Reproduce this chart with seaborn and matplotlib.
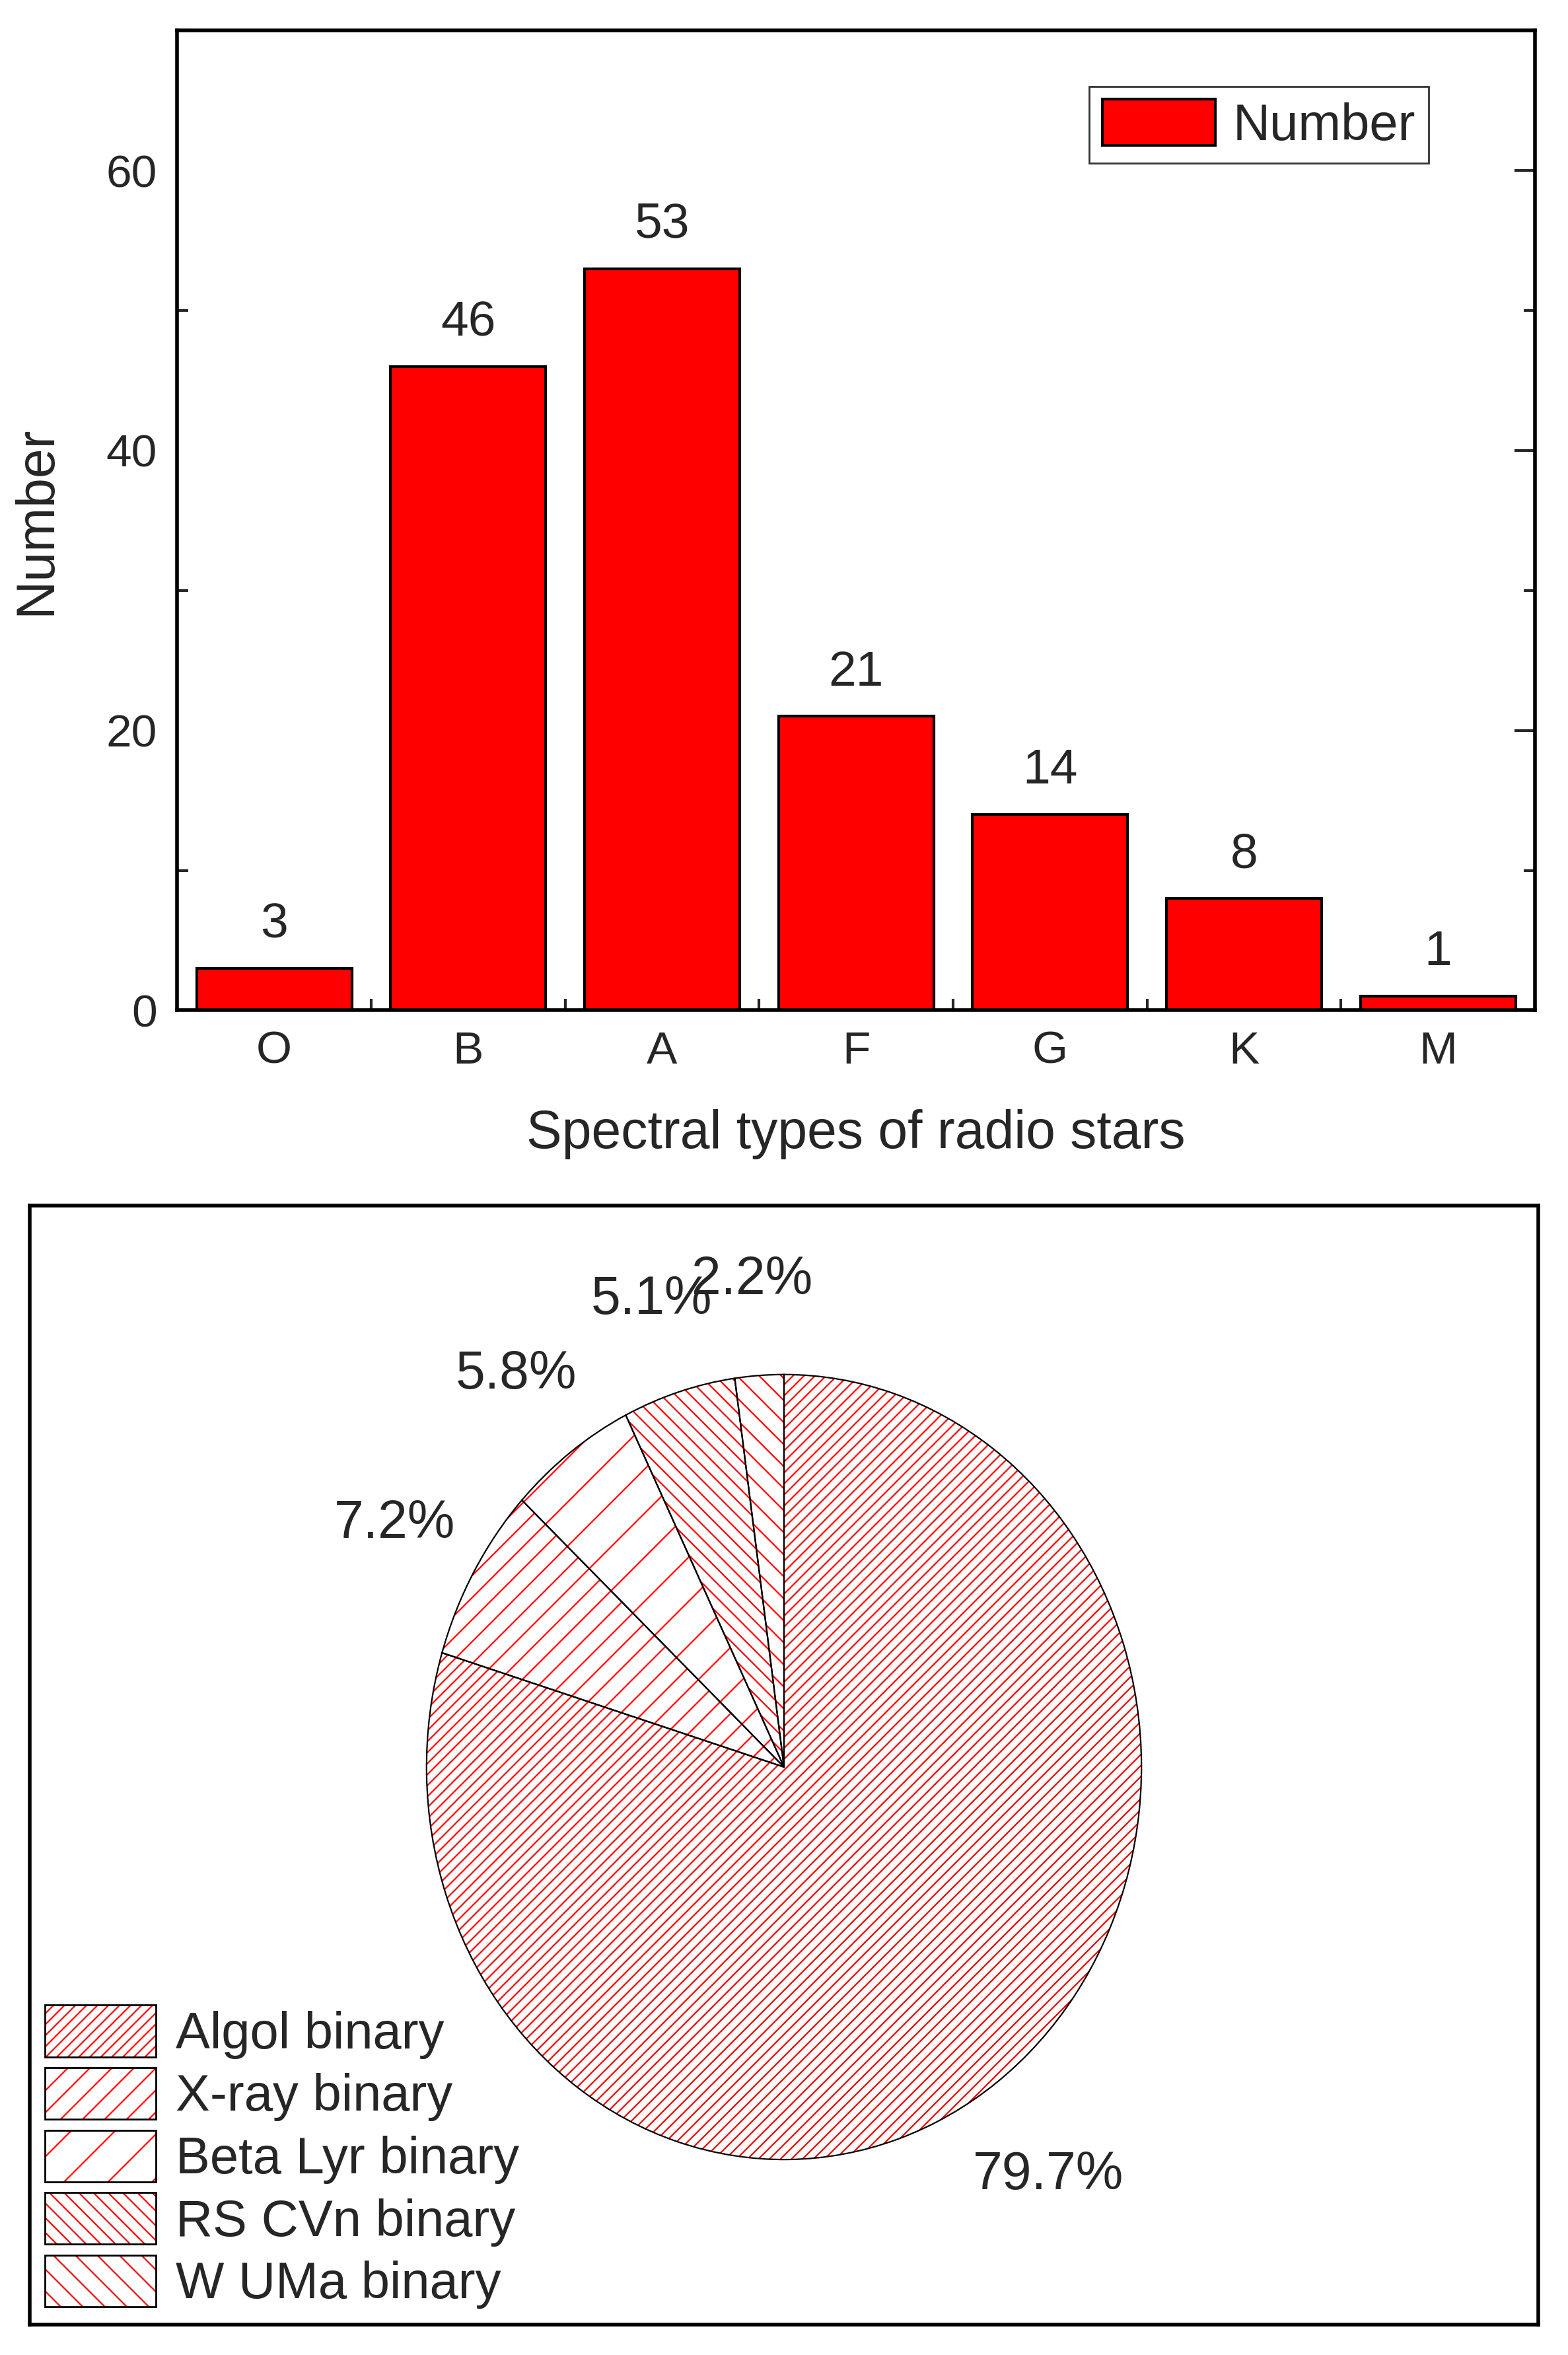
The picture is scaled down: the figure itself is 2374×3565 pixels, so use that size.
import numpy as np
import pandas as pd
import matplotlib
matplotlib.use("Agg")
import matplotlib.pyplot as plt
import seaborn as sns
from matplotlib.patches import Patch
from matplotlib.legend_handler import HandlerTuple

sns.set_theme(style="white")
plt.rcParams['font.family'] = ['Liberation Sans', 'DejaVu Sans']
plt.rcParams['hatch.linewidth'] = 0.8

# data
spectral_types = ['O', 'B', 'A', 'F', 'G', 'K', 'M']
counts = [3, 46, 53, 21, 14, 8, 1]

binary_types = ['Algol binary', 'X-ray binary', 'Beta Lyr binary', 'RS CVn binary', 'W UMa binary']
binary_pct = [79.7, 7.2, 5.8, 5.1, 2.2]
binary_hatch = ['////', '//', '/', '\\\\\\', '\\\\']
# label anchor points (data coords of pie axes)
label_pos = [(0.74, -1.04), (-1.09, 0.62), (-0.75, 1.0), (-0.37, 1.19), (-0.09, 1.24)]

fig = plt.figure(figsize=(11.87, 17.825), dpi=200)

# bar chart
ax = fig.add_axes([0.113, 0.571, 0.866, 0.416])
df = pd.DataFrame({'type': spectral_types, 'n': counts})
sns.barplot(data=df, x='type', y='n', ax=ax, color='red', saturation=1,
            edgecolor='black', linewidth=1.5, width=0.8, label='Number')
for i, v in enumerate(counts):
    ax.text(i, v + 1.5, str(v), ha='center', va='bottom', fontsize=27)
ax.set_xlim(-0.5, 6.5)
ax.set_ylim(0, 70)
ax.set_yticks([0, 20, 40, 60])
ax.set_yticks([10, 30, 50, 70], minor=True)
ax.set_xticks(np.arange(-0.5, 7, 1), minor=True)
ax.tick_params(which='both', direction='in', top=False, right=True, width=1.5, labelsize=25, pad=11)
ax.tick_params(which='major', length=11)
ax.tick_params(which='minor', length=6)
ax.tick_params(axis='x', which='minor', bottom=True)
ax.tick_params(axis='y', which='minor', left=True, right=True)
for s in ax.spines.values():
    s.set_linewidth(2)
    s.set_color('black')
ax.set_xlabel('Spectral types of radio stars', fontsize=29, labelpad=20)
ax.set_ylabel('Number', fontsize=29, labelpad=24)
leg = ax.legend(loc='upper right', bbox_to_anchor=(0.9216, 0.943), borderaxespad=0,
                fontsize=28, frameon=True, fancybox=False, edgecolor='black',
                handlelength=2.2, handleheight=1.0, handletextpad=0.35, borderpad=0.25)
leg.get_frame().set_linewidth(1)

# pie chart: hatched red wedges, then black outlines on top
ax2 = fig.add_axes([0.019, 0.013, 0.962, 0.475])
wedges, _ = ax2.pie(binary_pct, startangle=90, counterclock=False,
                    colors=['white'] * 5,
                    wedgeprops=dict(edgecolor='red', linewidth=0))
for w, h in zip(wedges, binary_hatch):
    w.set_hatch(h)
ax2.pie(binary_pct, startangle=90, counterclock=False,
        wedgeprops=dict(fill=False, edgecolor='black', linewidth=0.8))
for (x, y), p in zip(label_pos, binary_pct):
    ax2.text(x, y, f'{p}%', ha='center', va='center', fontsize=29)
ax2.set_aspect('auto')
ax2.set_xlim(-2.11, 2.11)
ax2.set_ylim(-1.42, 1.43)
ax2.set_frame_on(True)
for s in ax2.spines.values():
    s.set_visible(True)
    s.set_linewidth(2)
    s.set_color('black')
handles = [(Patch(facecolor='white', edgecolor='red', hatch=h, linewidth=0),
            Patch(fill=False, edgecolor='black', linewidth=1)) for h in binary_hatch]
ax2.legend(handles, binary_types, loc='lower left', fontsize=28, frameon=False,
           handler_map={tuple: HandlerTuple(ndivide=1, pad=0)},
           handlelength=2.16, handleheight=1.17, labelspacing=0.17,
           handletextpad=0.38, borderaxespad=0.3, borderpad=0.0)

fig.savefig('out.png', dpi=200, facecolor='white')
